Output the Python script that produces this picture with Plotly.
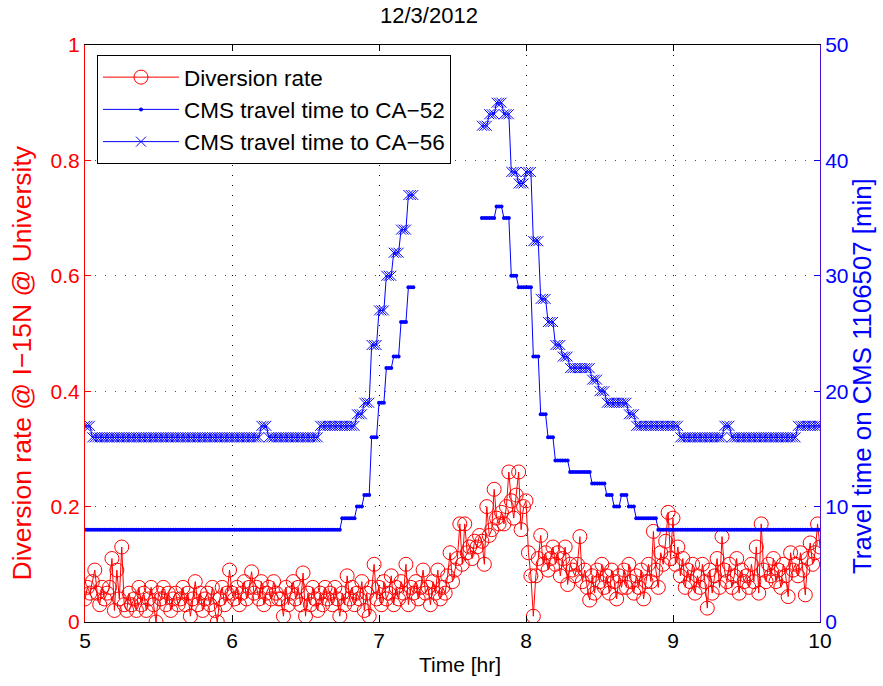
import plotly.graph_objects as go

# ---------------- data ----------------
# Diversion rate, one value per minute from 5:00 to 10:00 (rows = 10 minutes)
diversion_rate = [
    0.04, 0.06, 0.05, 0.07, 0.09, 0.05, 0.03, 0.06, 0.04, 0.05,   # 5:00
    0.06, 0.11, 0.02, 0.09, 0.04, 0.13, 0.03, 0.02, 0.05, 0.03,   # 5:10
    0.04, 0.02, 0.06, 0.03, 0.05, 0.02, 0.04, 0.06, 0.03, 0.00,   # 5:20
    0.05, 0.04, 0.06, 0.03, 0.05, 0.02, 0.04, 0.05, 0.03, 0.04,   # 5:30
    0.06, 0.03, 0.05, 0.01, 0.04, 0.07, 0.03, 0.05, 0.02, 0.04,   # 5:40
    0.05, 0.03, 0.06, 0.02, 0.00, 0.04, 0.06, 0.03, 0.05, 0.09,   # 5:50
    0.05, 0.04, 0.06, 0.03, 0.05, 0.07, 0.04, 0.06, 0.087, 0.05,  # 6:00
    0.06, 0.04, 0.07, 0.03, 0.05, 0.06, 0.04, 0.07, 0.05, 0.04,   # 6:10
    0.04, 0.01, 0.06, 0.03, 0.05, 0.07, 0.04, 0.06, 0.03, 0.085,  # 6:20
    0.01, 0.05, 0.03, 0.06, 0.04, 0.02, 0.05, 0.03, 0.06, 0.04,   # 6:30
    0.05, 0.03, 0.06, 0.04, 0.01, 0.05, 0.03, 0.08, 0.04, 0.06,   # 6:40
    0.03, 0.05, 0.04, 0.07, 0.02, 0.05, 0.01, 0.06, 0.10, 0.04,   # 6:50
    0.06, 0.03, 0.07, 0.04, 0.05, 0.08, 0.03, 0.06, 0.04, 0.07,   # 7:00
    0.05, 0.10, 0.03, 0.06, 0.05, 0.07, 0.04, 0.06, 0.09, 0.05,   # 7:10
    0.06, 0.03, 0.07, 0.05, 0.09, 0.04, 0.06, 0.05, 0.08, 0.12,   # 7:20
    0.07, 0.09, 0.11, 0.17, 0.10, 0.17, 0.12, 0.13, 0.11, 0.14,   # 7:30
    0.13, 0.15, 0.14, 0.10, 0.20, 0.15, 0.16, 0.23, 0.18, 0.17,   # 7:40
    0.19, 0.17, 0.20, 0.26, 0.21, 0.18, 0.22, 0.26, 0.16, 0.20,   # 7:50
    0.21, 0.12, 0.08, 0.01, 0.08, 0.11, 0.15, 0.10, 0.12, 0.09,   # 8:00
    0.11, 0.13, 0.10, 0.12, 0.08, 0.11, 0.13, 0.065, 0.10, 0.09,  # 8:10
    0.08, 0.10, 0.148, 0.07, 0.09, 0.06, 0.038, 0.08, 0.05, 0.09, # 8:20
    0.07, 0.10, 0.06, 0.08, 0.05, 0.09, 0.07, 0.04, 0.08, 0.06,   # 8:30
    0.09, 0.06, 0.10, 0.07, 0.05, 0.08, 0.06, 0.09, 0.04, 0.07,   # 8:40
    0.10, 0.07, 0.157, 0.09, 0.06, 0.12, 0.10, 0.14, 0.19, 0.11,  # 8:50
    0.18, 0.10, 0.13, 0.08, 0.11, 0.06, 0.09, 0.07, 0.10, 0.05,   # 9:00
    0.08, 0.06, 0.10, 0.07, 0.024, 0.09, 0.05, 0.08, 0.11, 0.06,  # 9:10
    0.148, 0.09, 0.07, 0.10, 0.06, 0.08, 0.11, 0.05, 0.09, 0.07,  # 9:20
    0.08, 0.06, 0.10, 0.07, 0.13, 0.05, 0.17, 0.09, 0.07, 0.10,   # 9:30
    0.08, 0.11, 0.07, 0.09, 0.06, 0.10, 0.08, 0.044, 0.12, 0.09,  # 9:40
    0.10, 0.08, 0.12, 0.09, 0.047, 0.11, 0.137, 0.10, 0.12, 0.17, # 9:50
    0.13,                                                         # 10:00
]

# CMS travel times [min], held values: (start minute after 5:00, value); None = no data
ca52_start = [0, 105, 111, 114, 117, 120, 123, 126, 129, 132, 135, 162, 168, 171, 174, 177,
              183, 186, 189, 192, 198, 207, 213, 216, 219, 222, 225, 234]
ca52_value = [8, 9, 10, 11, 16, 19, 22, 23, 26, 29, None, 35, 36, 35, 30, 29,
              23, 18, 16, 14, 13, 12, 11, 10, 11, 10, 9, 8]

ca56_start = [0, 3, 72, 75, 96, 111, 114, 117, 120, 123, 126, 129, 132, 135, 162, 165, 168,
              171, 174, 177, 180, 183, 186, 189, 192, 195, 198, 207, 210, 213, 222, 225,
              243, 261, 264, 291]
ca56_value = [17, 16, 17, 16, 17, 18, 19, 24, 27, 30, 32, 34, 37, None, 43, 44, 45,
              44, 39, 38, 39, 33, 28, 26, 24, 23, 22, 21, 20, 19, 18, 17,
              16, 17, 16, 17]

n_min = len(diversion_rate)
time_hr = [5 + m / 60 for m in range(n_min)]


def held(starts, values, n):
    out = []
    for i, s in enumerate(starts):
        e = starts[i + 1] if i + 1 < len(starts) else n
        out.extend([values[i]] * (e - s))
    return out


ca52 = held(ca52_start, ca52_value, n_min)
ca56 = held(ca56_start, ca56_value, n_min)

RED = "#FF0000"
BLUE = "#0000FF"
FONT = "Liberation Sans, Arial, Helvetica, sans-serif"
TICK = 21
LEG = 22.5
LAB = 26.5
LAB2 = 25.8
DOTS = "1px,9px"

# figure geometry (px)
W, H = 883, 686
ML, MR, MT, MB = 85, 63, 45, 64
PW, PH = W - ML - MR, H - MT - MB


def px_x(x):
    return (x - ML) / PW


def px_y(y):
    return (H - MB - y) / PH


fig = go.Figure()
fig.add_trace(go.Scatter(
    x=time_hr, y=diversion_rate, name="Diversion rate", mode="lines+markers",
    line=dict(color=RED, width=1),
    marker=dict(symbol="circle-open", size=14, color=RED, line=dict(width=1, color=RED)),
    yaxis="y"))
fig.add_trace(go.Scatter(
    x=time_hr, y=ca52, name="CMS travel time to CA\u221252", mode="lines+markers",
    line=dict(color=BLUE, width=1), connectgaps=False,
    marker=dict(symbol="circle", size=4, color=BLUE),
    yaxis="y2"))
fig.add_trace(go.Scatter(
    x=time_hr, y=ca56, name="CMS travel time to CA\u221256", mode="lines+markers",
    line=dict(color=BLUE, width=1), connectgaps=False,
    marker=dict(symbol="x-thin-open", size=10, color=BLUE, line=dict(width=1, color=BLUE)),
    yaxis="y2"))

annotations = [
    dict(text="12/3/2012", xref="paper", yref="paper", x=px_x(378), y=px_y(16),
         xanchor="left", yanchor="middle", showarrow=False,
         font=dict(size=22, color="black")),
    dict(text="Time [hr]", xref="paper", yref="paper", x=px_x(417), y=px_y(664),
         xanchor="left", yanchor="middle", showarrow=False,
         font=dict(size=TICK, color="black")),
    dict(text="Diversion rate @ I\u221215N @ University", xref="paper", yref="paper",
         x=px_x(21), y=px_y(583), xanchor="center", yanchor="bottom", textangle=-90,
         showarrow=False, font=dict(size=LAB, color=RED)),
    dict(text="Travel time on CMS 1106507 [min]", xref="paper", yref="paper",
         x=px_x(862), y=px_y(576), xanchor="center", yanchor="bottom", textangle=-90,
         showarrow=False, font=dict(size=LAB2, color=BLUE)),
]

fig.update_layout(
    width=W, height=H,
    margin=dict(l=ML, r=MR, t=MT, b=MB),
    paper_bgcolor="white", plot_bgcolor="white",
    font=dict(family=FONT, size=TICK, color="black"),
    showlegend=True,
    legend=dict(x=px_x(97), y=px_y(55), xanchor="left", yanchor="top",
                bgcolor="white", bordercolor="black", borderwidth=1,
                font=dict(size=LEG, color="black"), itemwidth=76, tracegroupgap=0),
    annotations=annotations,
    xaxis=dict(range=[5, 10], tickmode="array", tickvals=[5, 6, 7, 8, 9, 10],
               ticktext=["5", "6", "7", "8", "9", "10"],
               showline=True, linecolor="black", linewidth=1, mirror="ticks",
               ticks="inside", ticklen=6, tickcolor="black",
               showgrid=True, gridcolor="black", griddash=DOTS, gridwidth=1,
               zeroline=False, tickfont=dict(size=TICK, color="black")),
    yaxis=dict(range=[0, 1], tickmode="array", tickvals=[0, 0.2, 0.4, 0.6, 0.8, 1],
               ticktext=["0", "0.2", "0.4", "0.6", "0.8", "1"],
               showline=True, linecolor=RED, linewidth=1,
               ticks="inside", ticklen=6, tickcolor=RED,
               showgrid=True, gridcolor=RED, griddash=DOTS, gridwidth=1,
               zeroline=False, tickfont=dict(size=TICK, color=RED)),
    yaxis2=dict(range=[0, 50], tickmode="array", tickvals=[0, 10, 20, 30, 40, 50],
                overlaying="y", side="right", anchor="x",
                showline=True, linecolor="#4B0FD6", linewidth=1,
                ticks="inside", ticklen=6, tickcolor=BLUE,
                showgrid=False, zeroline=False, tickfont=dict(size=TICK, color=BLUE)),
)

fig.write_html("out.html")
